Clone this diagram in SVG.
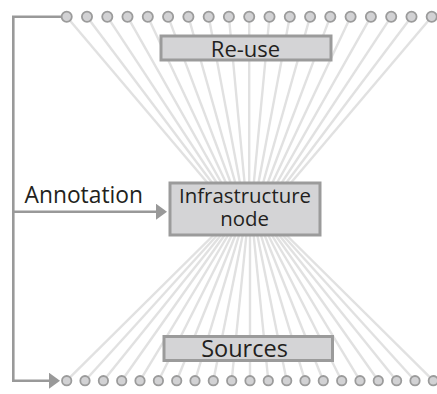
<svg xmlns="http://www.w3.org/2000/svg" width="437" height="394" viewBox="0 0 437 394">
  <style>
    .fan { stroke: #e1e1e1; stroke-width: 2.4; fill: none; }
    .box { fill: #d4d4d6; stroke: #9b9b9b; stroke-width: 3; }
    .port { fill: #d2d2d4; stroke: #9b9b9b; stroke-width: 1.8; }
    .wire { stroke: #999999; stroke-width: 2.6; fill: none; }
    .label { font-family: "Open Sans", "Noto Sans", "Liberation Sans", sans-serif; font-size: 22px; fill: #231f20; }
    .mid { text-anchor: middle; }
  </style>
  <defs>
    <marker id="arrow" markerUnits="userSpaceOnUse" markerWidth="12" markerHeight="17" refX="0" refY="8" orient="auto">
      <path d="M0,0 L11,8 L0,16 Z" fill="#999999"/>
    </marker>
  </defs>

  <!-- fan of links: upper ports into the node, lower ports into the node -->
  <g id="connectors">
    <g class="fan">
      <line x1="66.7" y1="16.7" x2="249.2" y2="232"/>
      <line x1="87.0" y1="16.7" x2="249.2" y2="232"/>
      <line x1="107.3" y1="16.7" x2="249.2" y2="232"/>
      <line x1="127.5" y1="16.7" x2="249.2" y2="232"/>
      <line x1="147.8" y1="16.7" x2="249.2" y2="232"/>
      <line x1="168.1" y1="16.7" x2="249.2" y2="232"/>
      <line x1="188.4" y1="16.7" x2="249.2" y2="232"/>
      <line x1="208.7" y1="16.7" x2="249.2" y2="232"/>
      <line x1="228.9" y1="16.7" x2="249.2" y2="232"/>
      <line x1="249.2" y1="16.7" x2="249.2" y2="232"/>
      <line x1="269.5" y1="16.7" x2="249.2" y2="232"/>
      <line x1="289.8" y1="16.7" x2="249.2" y2="232"/>
      <line x1="310.1" y1="16.7" x2="249.2" y2="232"/>
      <line x1="330.3" y1="16.7" x2="249.2" y2="232"/>
      <line x1="350.6" y1="16.7" x2="249.2" y2="232"/>
      <line x1="370.9" y1="16.7" x2="249.2" y2="232"/>
      <line x1="391.2" y1="16.7" x2="249.2" y2="232"/>
      <line x1="411.5" y1="16.7" x2="249.2" y2="232"/>
      <line x1="431.7" y1="16.7" x2="249.2" y2="232"/>

      <line x1="66.7" y1="380.7" x2="250" y2="199"/>
      <line x1="85.0" y1="380.7" x2="250" y2="199"/>
      <line x1="103.4" y1="380.7" x2="250" y2="199"/>
      <line x1="121.7" y1="380.7" x2="250" y2="199"/>
      <line x1="140.0" y1="380.7" x2="250" y2="199"/>
      <line x1="158.4" y1="380.7" x2="250" y2="199"/>
      <line x1="176.7" y1="380.7" x2="250" y2="199"/>
      <line x1="195.0" y1="380.7" x2="250" y2="199"/>
      <line x1="213.3" y1="380.7" x2="250" y2="199"/>
      <line x1="231.7" y1="380.7" x2="250" y2="199"/>
      <line x1="250.0" y1="380.7" x2="250" y2="199"/>
      <line x1="268.3" y1="380.7" x2="250" y2="199"/>
      <line x1="286.7" y1="380.7" x2="250" y2="199"/>
      <line x1="305.0" y1="380.7" x2="250" y2="199"/>
      <line x1="323.3" y1="380.7" x2="250" y2="199"/>
      <line x1="341.7" y1="380.7" x2="250" y2="199"/>
      <line x1="360.0" y1="380.7" x2="250" y2="199"/>
      <line x1="378.3" y1="380.7" x2="250" y2="199"/>
      <line x1="396.6" y1="380.7" x2="250" y2="199"/>
      <line x1="415.0" y1="380.7" x2="250" y2="199"/>
      <line x1="433.3" y1="380.7" x2="250" y2="199"/>
    </g>
    <!-- bracket on the left and the annotation feed -->
    <path class="wire" d="M61 16.7 H13.3 V380.7 H49" marker-end="url(#arrow)"/>
    <path class="wire" d="M13.3 211.7 H156" marker-end="url(#arrow)"/>
  </g>

  <g id="reuse">
    <rect class="box" x="161" y="36" width="170" height="24"/>
    <text class="label mid" x="245.5" y="56.5">Re-use</text>
  </g>

  <g id="infrastructure-node">
    <rect class="box" x="170" y="183" width="150" height="52"/>
    <text class="label mid" x="245" y="203" style="font-size:20.4px">Infrastructure</text>
    <text class="label mid" x="244.5" y="225.5" style="font-size:20.4px">node</text>
  </g>

  <g id="sources">
    <rect class="box" x="164" y="336.5" width="168.5" height="24"/>
    <text class="label mid" x="244.5" y="356.5" style="font-size:23.5px">Sources</text>
  </g>

  <g id="annotation">
    <text class="label" x="24.5" y="203.3" style="font-size:22.8px">Annotation</text>
  </g>

  <g id="upper-ports">
    <circle class="port" cx="66.7" cy="16.7" r="5.1"/>
    <circle class="port" cx="87.0" cy="16.7" r="5.1"/>
    <circle class="port" cx="107.3" cy="16.7" r="5.1"/>
    <circle class="port" cx="127.5" cy="16.7" r="5.1"/>
    <circle class="port" cx="147.8" cy="16.7" r="5.1"/>
    <circle class="port" cx="168.1" cy="16.7" r="5.1"/>
    <circle class="port" cx="188.4" cy="16.7" r="5.1"/>
    <circle class="port" cx="208.7" cy="16.7" r="5.1"/>
    <circle class="port" cx="228.9" cy="16.7" r="5.1"/>
    <circle class="port" cx="249.2" cy="16.7" r="5.1"/>
    <circle class="port" cx="269.5" cy="16.7" r="5.1"/>
    <circle class="port" cx="289.8" cy="16.7" r="5.1"/>
    <circle class="port" cx="310.1" cy="16.7" r="5.1"/>
    <circle class="port" cx="330.3" cy="16.7" r="5.1"/>
    <circle class="port" cx="350.6" cy="16.7" r="5.1"/>
    <circle class="port" cx="370.9" cy="16.7" r="5.1"/>
    <circle class="port" cx="391.2" cy="16.7" r="5.1"/>
    <circle class="port" cx="411.5" cy="16.7" r="5.1"/>
    <circle class="port" cx="431.7" cy="16.7" r="5.1"/>
  </g>

  <g id="lower-ports">
    <circle class="port" cx="66.7" cy="380.7" r="4.7"/>
    <circle class="port" cx="85.0" cy="380.7" r="4.7"/>
    <circle class="port" cx="103.4" cy="380.7" r="4.7"/>
    <circle class="port" cx="121.7" cy="380.7" r="4.7"/>
    <circle class="port" cx="140.0" cy="380.7" r="4.7"/>
    <circle class="port" cx="158.4" cy="380.7" r="4.7"/>
    <circle class="port" cx="176.7" cy="380.7" r="4.7"/>
    <circle class="port" cx="195.0" cy="380.7" r="4.7"/>
    <circle class="port" cx="213.3" cy="380.7" r="4.7"/>
    <circle class="port" cx="231.7" cy="380.7" r="4.7"/>
    <circle class="port" cx="250.0" cy="380.7" r="4.7"/>
    <circle class="port" cx="268.3" cy="380.7" r="4.7"/>
    <circle class="port" cx="286.7" cy="380.7" r="4.7"/>
    <circle class="port" cx="305.0" cy="380.7" r="4.7"/>
    <circle class="port" cx="323.3" cy="380.7" r="4.7"/>
    <circle class="port" cx="341.7" cy="380.7" r="4.7"/>
    <circle class="port" cx="360.0" cy="380.7" r="4.7"/>
    <circle class="port" cx="378.3" cy="380.7" r="4.7"/>
    <circle class="port" cx="396.6" cy="380.7" r="4.7"/>
    <circle class="port" cx="415.0" cy="380.7" r="4.7"/>
    <circle class="port" cx="433.3" cy="380.7" r="4.7"/>
  </g>
</svg>
